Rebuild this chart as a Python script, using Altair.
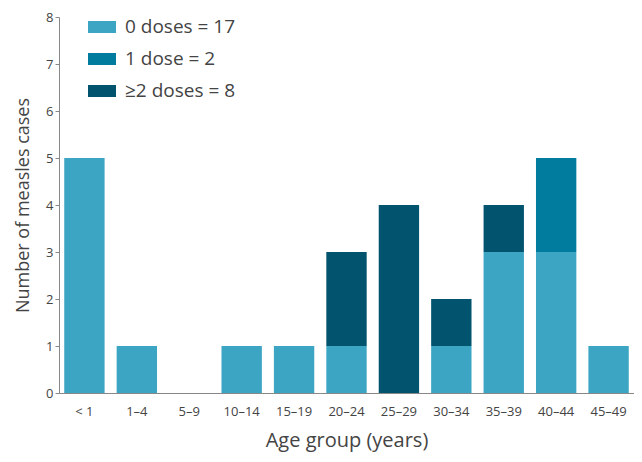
import altair as alt
import pandas as pd

ages = ["< 1", "1–4", "5–9", "10–14", "15–19", "20–24", "25–29", "30–34", "35–39", "40–44", "45–49"]
dose0 = [5, 1, 0, 1, 1, 1, 0, 1, 3, 3, 1]
dose1 = [0, 0, 0, 0, 0, 0, 0, 0, 0, 2, 0]
dose2 = [0, 0, 0, 0, 0, 2, 4, 1, 1, 0, 0]
series = ["0 doses = 17", "1 dose = 2", "≥2 doses = 8"]
colors = ["#3ba5c3", "#027c9e", "#01536e"]

rows = []
for i, a in enumerate(ages):
    for s, vals in zip(series, [dose0, dose1, dose2]):
        rows.append({"age": a, "series": s, "order": series.index(s), "cases": vals[i]})
df = pd.DataFrame(rows)

font = "Open Sans"
chart = alt.Chart(df).mark_bar().encode(
    x=alt.X("age:N", sort=ages, title="Age group (years)",
            scale=alt.Scale(paddingInner=0.23, paddingOuter=0.1),
            axis=alt.Axis(labelAngle=0, ticks=False, labelPadding=12, labelFontSize=13,
                          labelColor="#444", titleFontSize=20, titleColor="#444",
                          titlePadding=12, titleFontWeight="normal", domainColor="#888",
                          labelFont=font, titleFont=font)),
    y=alt.Y("cases:Q", stack="zero", title="Number of measles cases",
            scale=alt.Scale(domain=[0, 8], nice=False),
            axis=alt.Axis(values=list(range(0, 9)), grid=False, tickSize=4, tickColor="#888",
                          domainColor="#888", labelFontSize=13, labelColor="#444",
                          titleFontSize=18, titleColor="#444", titleFontWeight="normal",
                          titlePadding=13, labelFont=font, titleFont=font)),
    color=alt.Color("series:N", sort=series, scale=alt.Scale(domain=series, range=colors),
                    legend=alt.Legend(title=None, orient="none", legendX=29, legendY=-4,
                                      symbolType="M-1,-0.43H1V0.43H-1Z", symbolSize=784,
                                      symbolStrokeWidth=0, labelFontSize=19, labelColor="#444",
                                      labelFont=font, rowPadding=8, labelOffset=9)),
    order=alt.Order("order:Q"),
).properties(
    width=575, height=376,
    autosize=alt.AutoSizeParams(type="none"),
    padding={"left": 51, "top": 9, "right": 0, "bottom": 61},
).configure_view(stroke=None)

chart.save("out.html", embed_options={"renderer": "svg", "actions": False})
